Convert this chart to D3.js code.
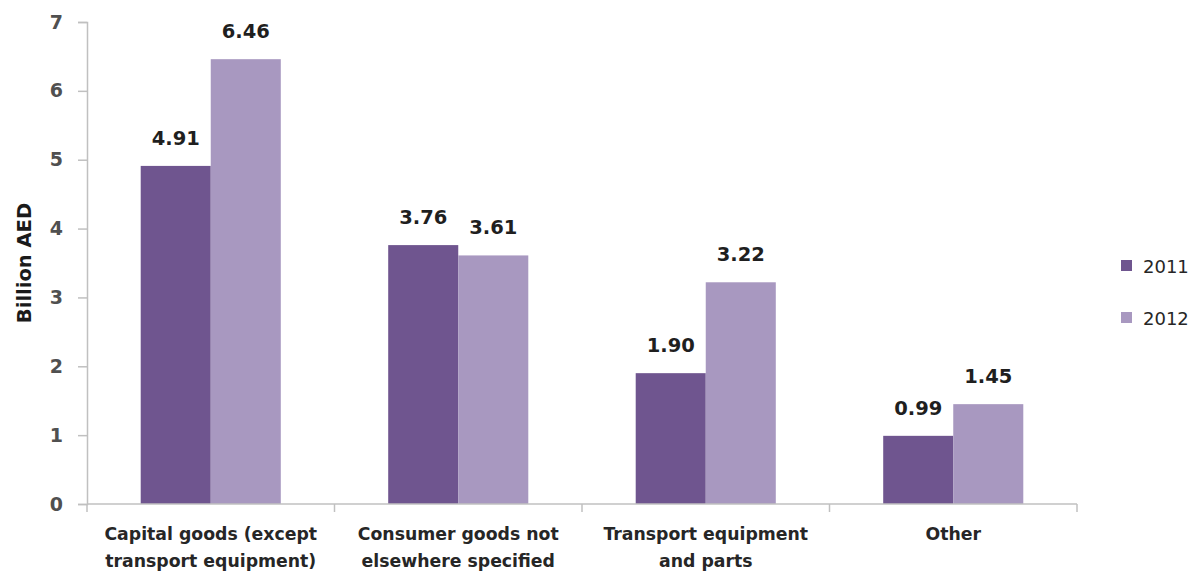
<!DOCTYPE html>
<html>
<head>
<meta charset="utf-8">
<script src="https://cdn.jsdelivr.net/npm/d3@7"></script>
<style>
  html, body { margin: 0; padding: 0; background: #fff; }
  svg { display: block; font-family: "DejaVu Sans", sans-serif; }
</style>
</head>
<body>
<svg id="chart" width="1202" height="577"></svg>
<script>
// Imports by category, billion AED
const categories = [
  ["Capital goods (except", "transport equipment)"],
  ["Consumer goods not", "elsewhere specified"],
  ["Transport equipment", "and parts"],
  ["Other"]
];
const seriesNames = ["2011", "2012"];
const values2011 = [4.91, 3.76, 1.90, 0.99];
const values2012 = [6.46, 3.61, 3.22, 1.45];
const yTicks = [0, 1, 2, 3, 4, 5, 6, 7];
const colors = ["#6f558f", "#a898c0"];

const svg = d3.select("#chart");
const plot = { left: 87, right: 1077, top: 22, bottom: 504 };

const x = d3.scaleBand()
  .domain(d3.range(categories.length))
  .range([plot.left, plot.right])
  .paddingInner(0).paddingOuter(0);

const groupW = x.bandwidth() * 0.566;
const xs = d3.scaleBand()
  .domain(seriesNames)
  .range([(x.bandwidth() - groupW) / 2, (x.bandwidth() + groupW) / 2])
  .padding(0);

const y = d3.scaleLinear().domain([0, 7]).range([plot.bottom, plot.top]);

const axisColor = "#c0c0c0";

// Y axis
const yAxis = svg.append("g")
  .attr("transform", `translate(${plot.left},0)`)
  .call(d3.axisLeft(y).tickValues(yTicks).tickSize(9).tickPadding(15).tickFormat(d3.format("d")));
yAxis.select(".domain").attr("stroke", axisColor).attr("stroke-width", 1.5);
yAxis.selectAll(".tick line").attr("stroke", axisColor).attr("stroke-width", 1.5);
yAxis.selectAll(".tick text")
  .attr("fill", "#505050").attr("font-size", 19).attr("font-weight", 700)
  .attr("font-family", "DejaVu Sans, sans-serif");

// Bars and value labels
const series = [values2011, values2012];
const groups = svg.append("g").selectAll("g")
  .data(categories.map((c, i) => i))
  .join("g")
  .attr("transform", i => `translate(${x(i)},0)`);

groups.selectAll("rect")
  .data(i => seriesNames.map((s, k) => ({ s, k, v: series[k][i] })))
  .join("rect")
  .attr("x", d => xs(d.s))
  .attr("width", xs.bandwidth())
  .attr("y", d => y(d.v))
  .attr("height", d => y(0) - y(d.v))
  .attr("fill", d => colors[d.k]);

groups.selectAll("text.val")
  .data(i => seriesNames.map((s, k) => ({ s, k, v: series[k][i] })))
  .join("text")
  .attr("class", "val")
  .attr("x", d => xs(d.s) + xs.bandwidth() / 2)
  .attr("y", d => y(d.v) - 21)
  .attr("text-anchor", "middle")
  .attr("font-size", 19.5)
  .attr("font-weight", 700)
  .attr("fill", "#1f1f1f")
  .text(d => d3.format(".2f")(d.v));

// X axis
const xAxis = svg.append("g").attr("transform", `translate(0,${plot.bottom})`);
xAxis.append("line")
  .attr("x1", plot.left).attr("x2", plot.right)
  .attr("stroke", axisColor).attr("stroke-width", 1.5);
xAxis.selectAll("line.tk")
  .data(d3.range(categories.length + 1))
  .join("line")
  .attr("class", "tk")
  .attr("x1", i => i < categories.length ? x(i) : plot.right)
  .attr("x2", i => i < categories.length ? x(i) : plot.right)
  .attr("y1", 0).attr("y2", 8)
  .attr("stroke", axisColor).attr("stroke-width", 1.5);

const catLabels = xAxis.selectAll("text.cat")
  .data(categories)
  .join("text")
  .attr("class", "cat")
  .attr("text-anchor", "middle")
  .attr("font-size", 17.3)
  .attr("font-weight", 700)
  .attr("fill", "#262626")
  .attr("transform", (d, i) => `translate(${x(i) + x.bandwidth() / 2},0)`);
catLabels.selectAll("tspan")
  .data(d => d)
  .join("tspan")
  .attr("x", 0)
  .attr("y", (d, j) => 36 + j * 27)
  .text(d => d);

// Y axis title
svg.append("text")
  .attr("transform", `translate(31,${(plot.top + plot.bottom) / 2}) rotate(-90)`)
  .attr("text-anchor", "middle")
  .attr("font-size", 19.5)
  .attr("font-weight", 700)
  .attr("fill", "#1a1a1a")
  .text("Billion AED");

// Legend
const legend = svg.append("g").attr("transform", "translate(1121,0)");
const legendY = [266, 318];
seriesNames.forEach((name, k) => {
  legend.append("rect")
    .attr("x", 0).attr("y", legendY[k] - 6)
    .attr("width", 11).attr("height", 11)
    .attr("fill", colors[k]);
  legend.append("text")
    .attr("x", 22).attr("y", legendY[k] + 7)
    .attr("font-size", 18)
    .attr("fill", "#262626")
    .text(name);
});
</script>
</body>
</html>
